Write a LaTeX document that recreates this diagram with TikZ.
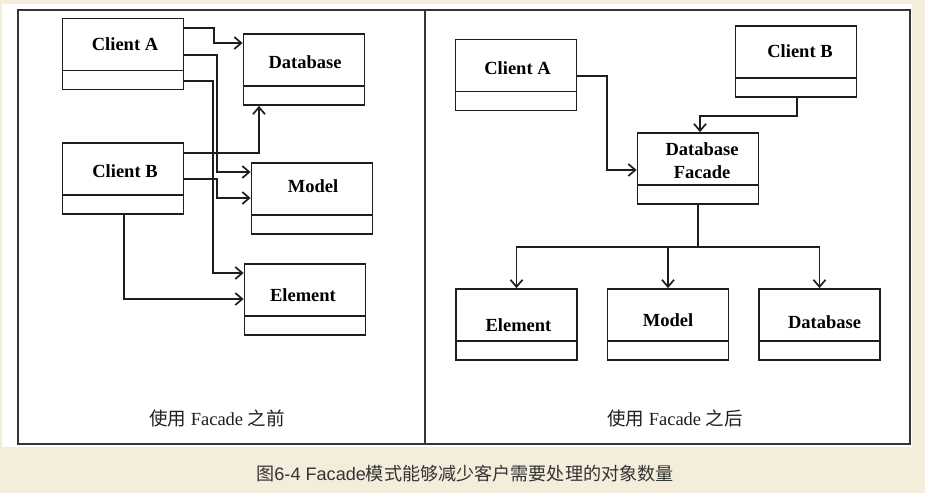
\documentclass[tikz,border=0pt]{standalone}
\usepackage{fontspec}
\setmainfont{Liberation Serif}
\newfontfamily\cjk{Noto Sans CJK SC}
\newfontfamily\capfont{Liberation Sans}
\usepackage{xcolor}
\usepackage{tikz}
\usetikzlibrary{arrows.meta}
\definecolor{paper}{HTML}{F5EDDC}
\definecolor{ink}{HTML}{1E1E1E}
\definecolor{captext}{HTML}{333333}

\begin{document}
\begin{tikzpicture}[x=1pt, y=-1pt, >={Straight Barb[length=7pt,width=12pt]}]
% Define styles
\tikzstyle{cls} = [draw=ink, line width=1.8pt, minimum width=121pt, minimum height=71pt, inner sep=0pt,
  path picture={\draw[ink, line width=1.8pt] ([yshift=19pt]path picture bounding box.south west) -- ([yshift=19pt]path picture bounding box.south east);}]
\tikzstyle{clsname} = [font=\bfseries\fontsize{18.5}{23}\selectfont, inner sep=0pt, align=center]
\tikzstyle{link} = [draw=ink, line width=1.7pt]
\tikzstyle{frame} = [draw=ink!90, line width=1.5pt]
\tikzstyle{caption} = [font=\fontsize{18.5}{20}\selectfont, text=ink, inner sep=0pt]
\tikzstyle{figcap} = [font=\capfont\fontsize{18.1}{22}\selectfont, text=captext, inner sep=0pt]
% Background and frame
\fill[paper] (0,0) rectangle (925,493);
\useasboundingbox (0,0) rectangle (925,493);
\fill[white] (2,4) rectangle (912,447);
\draw[frame] (18,10) rectangle (910,444);
\draw[frame] (425,10) -- (425,444);
% Define nodes (before)
\node[cls] (lA) at (123,54) {};
\node[clsname] (lA_t) at (125,44) {Client A};
\node[cls] (lDb) at (304,69.5) {};
\node[clsname] (lDb_t) at (305,62) {Database};
\node[cls] (lB) at (123,178.5) {};
\node[clsname] (lB_t) at (125,171) {Client B};
\node[cls] (lModel) at (312,198.5) {};
\node[clsname] (lModel_t) at (313,186) {Model};
\node[cls] (lElem) at (305,299.5) {};
\node[clsname] (lElem_t) at (303,295) {Element};
\node[caption] (capL) at (217,418) {{\cjk 使用} Facade {\cjk 之前}};
% Define nodes (after)
\node[cls] (rA) at (516,75) {};
\node[clsname] (rA_t) at (517.5,68) {Client A};
\node[cls] (rB) at (796,61.5) {};
\node[clsname] (rB_t) at (800,51.5) {Client B};
\node[cls] (rF) at (698,168.5) {};
\node[clsname] (rF_t) at (702,160.5) {Database\\Facade};
\node[cls] (rElem) at (516.5,324.5) {};
\node[clsname] (rElem_t) at (518.5,325) {Element};
\node[cls] (rModel) at (668,324.5) {};
\node[clsname] (rModel_t) at (668,320) {Model};
\node[cls] (rDb) at (819.5,324.5) {};
\node[clsname] (rDb_t) at (824.5,322) {Database};
\coordinate (split) at (698,247);
\node[caption] (capR) at (675,418) {{\cjk 使用} Facade {\cjk 之后}};
\node[figcap] (fig) at (465,474) {{\cjk 图}6-4 Facade{\cjk 模式能够减少客户需要处理的对象数量}};
% Connect the nodes (before)
\draw[link, ->] (lA.east |- 0,28) -- (214,28) |- (lDb.west |- 0,43);
\draw[link, ->] (lA.east |- 0,55) -- (217,55) |- (lModel.west |- 0,172);
\draw[link, ->] (lA.east |- 0,81) -- (213,81) |- (lElem.west |- 0,273);
\draw[link, ->] (lB.east |- 0,153) -| (lDb.south -| 259,0);
\draw[link, ->] (lB.east |- 0,179) -- (217,179) |- (lModel.west |- 0,198);
\draw[link, ->] (lB.south -| 124,0) |- (lElem.west |- 0,299);
% Connect the nodes (after)
\draw[link, ->] (rA.east |- 0,76) -- (607,76) |- (rF.west |- 0,170);
\draw[link, ->] (rB.south -| 797,0) -- (797,116) -| (rF.north -| 700,0);
\draw[link] (rF.south) -- (split);
\draw[link, ->] (split) -| (rElem.north);
\draw[link, ->] (split) -| (rModel.north);
\draw[link, ->] (split) -| (rDb.north);


\end{tikzpicture}
\end{document}
